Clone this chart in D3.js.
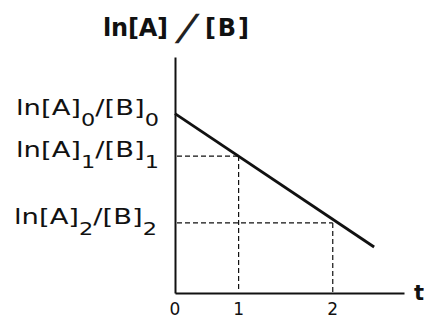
<!DOCTYPE html>
<html>
<head>
<meta charset="utf-8">
<script src="https://cdn.jsdelivr.net/npm/d3@7"></script>
<style>
  html, body { margin: 0; padding: 0; background: #fff; }
  svg { display: block; }
</style>
</head>
<body>
<svg id="chart" width="424" height="320"></svg>
<script>
// First-order style plot: ln[A]/[B] falling linearly with time t
const lineT = [0, 3.13];          // time at the ends of the drawn line
const lineV = [0.76, 0.195];      // ln[A]/[B] at those ends
const markT = [1, 2.48];          // marked times (subscripts 1 and 2)
const markV = [0.58, 0.297];
const xTickT = [0, 1, 2.48];
const xTickLabels = ["0", "1", "2"];
const yLabelV = [0.76, 0.58, 0.297];
const yLabelSub = ["0", "1", "2"];

const svg = d3.select("#chart");
const ink = "#111";

const x = d3.scaleLinear().domain([0, 3.6]).range([175, 404]);
const y = d3.scaleLinear().domain([0, 1]).range([293, 57]);

// axes without ticks
svg.append("g")
  .attr("transform", `translate(0,${y(0)})`)
  .call(d3.axisBottom(x).tickValues([]).tickSize(0).tickSizeOuter(0))
  .call(g => g.select(".domain").attr("stroke", ink).attr("stroke-width", 2));
svg.append("g")
  .attr("transform", `translate(${x(0)},0)`)
  .call(d3.axisLeft(y).tickValues([]).tickSize(0).tickSizeOuter(0))
  .call(g => g.select(".domain").attr("stroke", ink).attr("stroke-width", 2));

// dashed guides
const guides = svg.append("g")
  .attr("stroke", ink).attr("stroke-width", 1.2)
  .attr("stroke-dasharray", "5,3").attr("fill", "none");
markT.forEach((t, i) => {
  guides.append("line")
    .attr("x1", x(0) + 2).attr("x2", x(t))
    .attr("y1", y(markV[i])).attr("y2", y(markV[i]));
  guides.append("line")
    .attr("x1", x(t)).attr("x2", x(t))
    .attr("y1", y(markV[i])).attr("y2", y(0) - 1);
});

// the straight line
const lineData = lineT.map((t, i) => [t, lineV[i]]);
svg.append("path")
  .datum(lineData)
  .attr("fill", "none").attr("stroke", ink).attr("stroke-width", 2.8)
  .attr("d", d3.line().x(d => x(d[0])).y(d => y(d[1])));

// x tick labels
svg.append("g").selectAll("text").data(xTickT).join("text")
  .attr("x", d => x(d)).attr("y", y(0) + 22)
  .attr("text-anchor", "middle")
  .attr("font-family", "DejaVu Sans").attr("font-size", 17).attr("fill", ink)
  .text((d, i) => xTickLabels[i]);

// axis names
svg.append("text")
  .attr("x", 414).attr("y", y(0) + 7)
  .attr("font-family", "DejaVu Sans").attr("font-weight", "bold")
  .attr("font-size", 21).attr("fill", ink).text("t");

const titleFont = g => g.attr("font-family", "DejaVu Sans").attr("font-weight", "bold")
  .attr("font-size", 24).attr("fill", ink);
svg.append("text").call(titleFont)
  .attr("x", 103).attr("y", 36)
  .attr("textLength", 65).attr("lengthAdjust", "spacing")
  .text("ln[A]");
svg.append("text")
  .attr("transform", "translate(176,40) skewX(-22)")
  .attr("font-family", "DejaVu Sans").attr("font-weight", "bold")
  .attr("font-size", 36).attr("fill", "#222")
  .text("/");
svg.append("text").call(titleFont)
  .attr("x", 205).attr("y", 36)
  .attr("textLength", 44).attr("lengthAdjust", "spacing")
  .text("[B]");

// y labels with subscripts, stretched to a common width ending at the axis gap
const labelWidth = 143;
const yl = svg.append("g")
  .attr("font-family", "DejaVu Sans").attr("font-size", 22).attr("fill", ink);
yLabelV.forEach((v, i) => {
  const t = yl.append("text");
  t.append("tspan").text("ln[A]");
  t.append("tspan").attr("font-size", 18).attr("dy", 11).text(yLabelSub[i]);
  t.append("tspan").attr("dy", -11).text("/[B]");
  t.append("tspan").attr("font-size", 18).attr("dy", 11).text(yLabelSub[i]);
  const len = t.node().getComputedTextLength();
  const right = 159 - (i === 2 ? 2 : 0);
  t.attr("transform",
    `translate(${right - labelWidth},${y(v) + 1}) scale(${labelWidth / len},1)`);
});
</script>
</body>
</html>
